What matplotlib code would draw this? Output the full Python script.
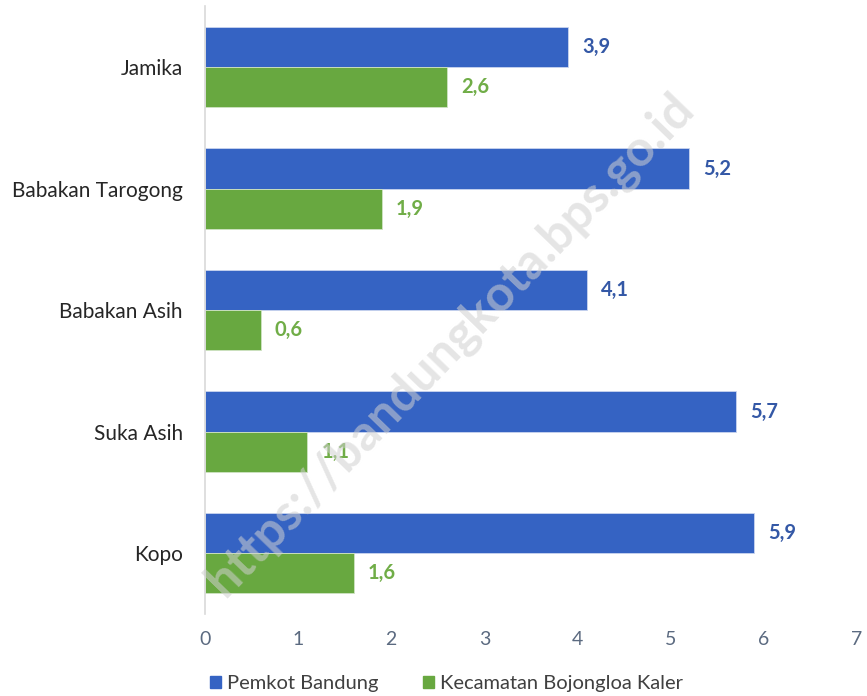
import numpy as np
import matplotlib.pyplot as plt
from matplotlib.patches import Patch

# --- Dados ---
kelurahan = ['Jamika', 'Babakan Tarogong', 'Babakan Asih', 'Suka Asih', 'Kopo']
pemkot = [3.9, 5.2, 4.1, 5.7, 5.9]
kecamatan = [2.6, 1.9, 0.6, 1.1, 1.6]
xticks = [0, 1, 2, 3, 4, 5, 6, 7]

AZUL = '#3563C3'
VERDE = '#68A840'
AZUL_TXT = '#3458A6'
VERDE_TXT = '#70AD47'

plt.rcParams['font.family'] = ['Lato', 'DejaVu Sans']

fig = plt.figure(figsize=(8.67, 6.96), dpi=100)
ax = fig.add_axes([0.2364, 0.118, 0.752, 0.873])

y = np.arange(len(kelurahan))
h = 0.33
ax.barh(y - h / 2, pemkot, height=h, color=AZUL, edgecolor='#c9d5ef', linewidth=0.6)
ax.barh(y + h / 2, kecamatan, height=h, color=VERDE, edgecolor='#cfe3c3', linewidth=0.6)

for i in range(len(kelurahan)):
    ax.text(pemkot[i] + 0.15, y[i] - h / 2, f"{pemkot[i]:.1f}".replace('.', ','),
            va='center', ha='left', fontsize=14.5, fontweight='bold', color=AZUL_TXT)
    ax.text(kecamatan[i] + 0.15, y[i] + h / 2, f"{kecamatan[i]:.1f}".replace('.', ','),
            va='center', ha='left', fontsize=14.5, fontweight='bold', color=VERDE_TXT)

ax.set_ylim(len(kelurahan) - 0.5, -0.5)
ax.set_xlim(0, 7)
ax.set_yticks(y)
ax.set_yticklabels(kelurahan, fontsize=15, color='#262626')
ax.set_xticks(xticks)
ax.set_xticklabels([str(t) for t in xticks], fontsize=14, color='#5B6A80')
ax.tick_params(axis='y', length=0, pad=16)
ax.tick_params(axis='x', length=0, pad=12)

for s in ['top', 'right', 'bottom']:
    ax.spines[s].set_visible(False)
ax.spines['left'].set_color('#d9d9d9')
ax.spines['left'].set_linewidth(1.2)

# marca d'agua
fig.text(0.519, 0.505, 'https://bandungkota.bps.go.id', rotation=46, fontsize=36,
         fontweight='bold', color='#d0d0d0', alpha=0.55, ha='center', va='center', zorder=10)

handles = [Patch(color=AZUL, label='Pemkot Bandung'),
           Patch(color=VERDE, label='Kecamatan Bojongloa Kaler')]
fig.legend(handles=handles, loc='center', bbox_to_anchor=(0.515, 0.018), ncol=2,
           frameon=False, fontsize=14.5, handlelength=0.55, handleheight=0.55,
           handletextpad=0.3, columnspacing=2.2, labelcolor='#404040')

plt.savefig('out.png', dpi=100)
